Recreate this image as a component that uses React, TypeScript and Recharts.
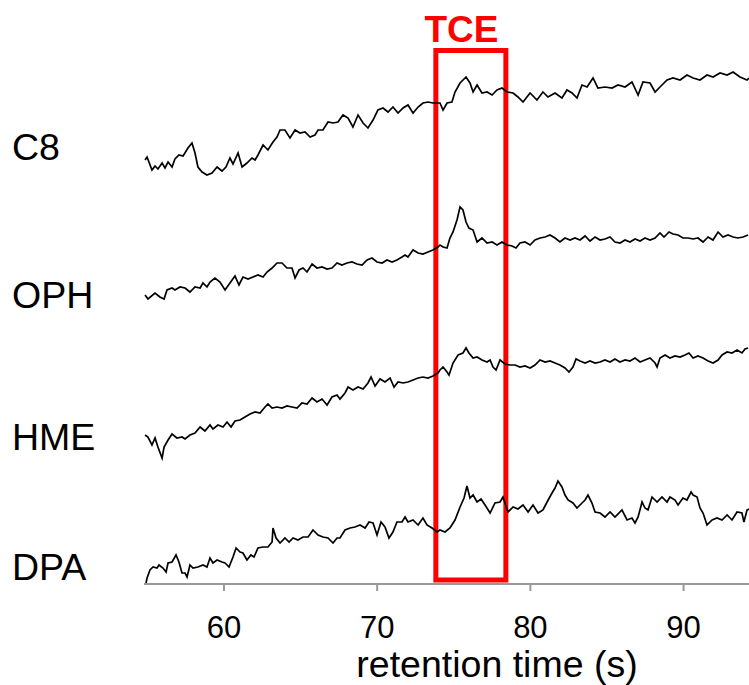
import { LineChart, Line, XAxis, YAxis, ReferenceArea } from 'recharts';

// retention time (s) and detector signal (a.u.)
const c8Time = [
  54.85, 54.98, 55.30, 55.50, 55.69, 55.96, 56.15, 56.35, 56.61, 56.80,
  57.06, 57.33, 57.65, 57.91, 58.11, 58.30, 58.57, 58.89, 59.22, 59.55,
  59.87, 60.13, 60.39, 60.59, 60.92, 61.18, 61.50, 61.83, 62.03, 62.22,
  62.55, 62.87, 63.20, 63.46, 63.66, 63.98, 64.31, 64.64, 64.96, 65.29,
  65.62, 65.94, 66.14, 66.46, 66.79, 67.12, 67.44, 67.77, 68.10, 68.42,
  68.75, 69.08, 69.40, 69.73, 70.05, 70.38, 70.71, 71.03, 71.36, 71.69,
  72.01, 72.34, 72.67, 72.99, 73.32, 73.64, 74.10, 74.30, 74.56, 74.88,
  75.08, 75.41, 75.80, 76.06, 76.26, 76.52, 76.84, 77.17, 77.50, 77.82,
  78.15, 78.47, 78.87, 79.19, 79.52, 79.98, 80.43, 80.82, 81.15, 81.61,
  82.06, 82.39, 82.72, 83.04, 83.37, 83.70, 84.09, 84.41, 84.87, 85.33,
  85.72, 86.18, 86.63, 87.03, 87.35, 87.81, 88.14, 88.46, 88.92, 89.31,
  89.77, 90.22, 90.62, 91.07, 91.53, 91.92, 92.38, 92.84, 93.23, 93.68,
  94.14, 94.27,
];
const c8Signal = [
  24, 27, 14, 18, 15, 21, 16, 22, 17, 25,
  29, 28, 36, 41, 31, 17, 12, 9, 11, 17,
  13, 17, 26, 20, 31, 17, 21, 26, 24, 29,
  39, 34, 42, 47, 54, 54, 46, 54, 51, 52,
  47, 49, 54, 54, 62, 61, 62, 69, 66, 57,
  69, 61, 56, 64, 74, 76, 72, 77, 71, 76,
  79, 71, 77, 81, 82, 81, 81, 74, 81, 82,
  92, 101, 107, 101, 92, 99, 91, 92, 89, 94,
  96, 92, 91, 87, 82, 91, 84, 92, 87, 91,
  86, 94, 91, 86, 99, 97, 106, 96, 97, 96,
  99, 97, 102, 89, 102, 101, 92, 97, 104, 106,
  104, 109, 106, 104, 109, 107, 111, 109, 112, 107,
  104, 106,
];

const ophTime = [
  54.85, 55.04, 55.50, 55.82, 56.09, 56.28, 56.61, 56.80, 57.13, 57.46,
  57.78, 58.11, 58.44, 58.63, 58.89, 59.09, 59.41, 59.74, 60.07, 60.39,
  60.72, 60.98, 61.24, 61.57, 61.89, 62.22, 62.55, 62.81, 63.14, 63.46,
  63.79, 64.11, 64.44, 64.64, 64.90, 65.16, 65.42, 65.75, 66.07, 66.40,
  66.73, 67.05, 67.38, 67.70, 68.03, 68.36, 68.68, 69.01, 69.34, 69.66,
  69.99, 70.32, 70.64, 70.97, 71.29, 71.62, 71.82, 72.01, 72.34, 72.67,
  72.99, 73.32, 73.64, 73.97, 74.10, 74.30, 74.56, 74.75, 74.95, 75.21,
  75.41, 75.60, 75.80, 75.99, 76.26, 76.52, 76.84, 77.17, 77.50, 77.82,
  78.15, 78.47, 78.80, 79.06, 79.32, 79.65, 79.98, 80.30, 80.63, 80.96,
  81.28, 81.61, 81.93, 82.26, 82.59, 82.91, 83.24, 83.57, 83.89, 84.22,
  84.55, 84.87, 85.20, 85.52, 85.85, 86.18, 86.50, 86.83, 87.16, 87.48,
  87.81, 88.14, 88.46, 88.72, 89.05, 89.31, 89.64, 89.96, 90.29, 90.62,
  90.94, 91.27, 91.60, 91.92, 92.25, 92.57, 92.90, 93.23, 93.55, 93.88,
  94.21,
];
const ophSignal = [
  9, 5, 11, 7, 5, 14, 16, 14, 17, 16,
  12, 17, 16, 21, 17, 22, 26, 22, 14, 21,
  28, 19, 27, 25, 27, 29, 27, 32, 36, 41,
  41, 36, 36, 26, 34, 36, 32, 40, 36, 37,
  35, 36, 41, 39, 41, 42, 40, 39, 44, 46,
  42, 41, 44, 42, 44, 47, 49, 47, 54, 51,
  50, 52, 54, 57, 59, 57, 56, 66, 72, 84,
  97, 94, 82, 76, 74, 62, 66, 61, 62, 59,
  62, 59, 58, 56, 61, 62, 59, 64, 66, 67,
  69, 66, 62, 66, 64, 66, 64, 68, 63, 67,
  64, 65, 67, 62, 61, 64, 62, 65, 63, 66,
  64, 66, 71, 67, 72, 70, 69, 66, 66, 65,
  66, 62, 67, 64, 72, 67, 69, 67, 66, 67,
  69,
];

const hmeTime = [
  54.85, 55.04, 55.30, 55.50, 55.69, 55.96, 56.09, 56.35, 56.61, 56.93,
  57.26, 57.46, 57.78, 58.11, 58.44, 58.76, 59.09, 59.28, 59.61, 59.94,
  60.20, 60.46, 60.72, 61.05, 61.37, 61.70, 62.03, 62.35, 62.68, 62.87,
  63.14, 63.46, 63.79, 64.11, 64.44, 64.77, 65.09, 65.42, 65.75, 66.07,
  66.40, 66.73, 67.05, 67.38, 67.57, 67.90, 68.10, 68.42, 68.75, 69.08,
  69.40, 69.60, 69.86, 70.19, 70.51, 70.84, 71.10, 71.36, 71.69, 72.01,
  72.34, 72.67, 72.99, 73.32, 73.64, 73.97, 74.10, 74.30, 74.56, 74.69,
  74.95, 75.28, 75.60, 75.80, 75.99, 76.26, 76.52, 76.84, 77.17, 77.37,
  77.56, 77.76, 78.02, 78.34, 78.67, 79.00, 79.32, 79.65, 79.98, 80.30,
  80.63, 80.96, 81.28, 81.61, 81.93, 82.26, 82.52, 82.78, 82.98, 83.24,
  83.57, 83.89, 84.22, 84.55, 84.87, 85.20, 85.52, 85.85, 86.18, 86.50,
  86.83, 87.16, 87.48, 87.81, 88.14, 88.27, 88.46, 88.79, 89.11, 89.44,
  89.77, 90.09, 90.35, 90.62, 90.94, 91.27, 91.60, 91.92, 92.25, 92.51,
  92.84, 93.16, 93.49, 93.81, 94.01, 94.21,
];
const hmeSignal = [
  29, 27, 19, 26, 17, 6, 17, 24, 30, 26,
  27, 25, 29, 31, 37, 33, 39, 35, 39, 37,
  42, 37, 43, 44, 47, 50, 52, 51, 57, 60,
  56, 57, 56, 58, 57, 56, 61, 60, 66, 62,
  65, 59, 67, 69, 65, 71, 77, 74, 77, 75,
  81, 87, 78, 85, 82, 86, 77, 82, 81, 82,
  84, 86, 87, 86, 88, 91, 94, 97, 92, 89,
  101, 109, 111, 116, 111, 106, 107, 104, 102, 104,
  97, 94, 104, 100, 99, 99, 97, 98, 96, 99,
  104, 102, 103, 101, 99, 96, 92, 97, 105, 103,
  101, 103, 101, 102, 104, 102, 105, 102, 104, 103,
  106, 102, 104, 106, 101, 97, 106, 109, 106, 108,
  107, 109, 111, 106, 108, 106, 103, 101, 104, 109,
  112, 111, 114, 111, 115, 116,
];

const dpaTime = [
  54.85, 54.98, 55.17, 55.37, 55.63, 55.76, 56.02, 56.22, 56.35, 56.61,
  56.87, 57.06, 57.26, 57.46, 57.59, 57.78, 57.98, 58.30, 58.63, 58.89,
  59.09, 59.28, 59.55, 59.87, 60.07, 60.33, 60.59, 60.79, 61.05, 61.24,
  61.50, 61.76, 61.96, 62.22, 62.55, 62.87, 63.14, 63.20, 63.40, 63.66,
  63.98, 64.25, 64.51, 64.83, 65.16, 65.49, 65.81, 66.14, 66.46, 66.79,
  67.12, 67.38, 67.57, 67.90, 68.23, 68.55, 68.88, 69.21, 69.47, 69.73,
  69.99, 70.25, 70.51, 70.77, 71.03, 71.29, 71.62, 71.82, 72.01, 72.34,
  72.67, 72.99, 73.25, 73.58, 73.91, 74.10, 74.43, 74.75, 75.08, 75.41,
  75.67, 75.86, 76.06, 76.26, 76.52, 76.78, 77.04, 77.37, 77.69, 78.02,
  78.21, 78.54, 78.87, 79.19, 79.52, 79.85, 80.17, 80.50, 80.82, 81.09,
  81.41, 81.61, 81.80, 82.06, 82.26, 82.46, 82.78, 83.04, 83.37, 83.57,
  83.76, 84.02, 84.22, 84.55, 84.87, 85.20, 85.52, 85.98, 86.31, 86.63,
  86.83, 87.03, 87.29, 87.48, 87.68, 87.94, 88.27, 88.59, 88.92, 89.11,
  89.44, 89.64, 89.96, 90.22, 90.49, 90.62, 90.88, 91.07, 91.27, 91.53,
  91.86, 92.18, 92.51, 92.84, 93.16, 93.49, 93.81, 93.94, 94.14, 94.27,
];
const dpaSignal = [
  -4, 6, 14, 17, 16, 19, 16, 12, 21, 22,
  29, 22, 11, 11, 7, 19, 16, 17, 19, 17,
  26, 21, 24, 22, 21, 17, 27, 36, 32, 31,
  24, 29, 27, 36, 37, 37, 42, 56, 46, 41,
  46, 42, 46, 44, 47, 47, 54, 49, 47, 46,
  41, 46, 46, 54, 56, 57, 59, 56, 62, 61,
  49, 62, 57, 46, 52, 62, 62, 67, 62, 64,
  59, 66, 59, 56, 52, 54, 52, 56, 64, 77,
  86, 98, 86, 89, 82, 85, 79, 71, 81, 82,
  87, 72, 77, 75, 79, 72, 79, 71, 74, 82,
  91, 96, 103, 97, 89, 84, 81, 76, 81, 84,
  89, 81, 72, 71, 67, 72, 67, 74, 64, 66,
  61, 67, 82, 76, 74, 87, 82, 87, 82, 87,
  84, 79, 86, 84, 92, 89, 87, 76, 71, 59,
  64, 66, 64, 69, 64, 72, 71, 62, 74, 75,
];

const xTicks = [60, 70, 80, 90];
const tceWindow = [73.83, 78.4];

// vertical stacking of the traces
const traces = [
  { name: 'C8', time: c8Time, signal: c8Signal, offset: 400, labelY: 160 },
  { name: 'OPH', time: ophTime, signal: ophSignal, offset: 280, labelY: 308 },
  { name: 'HME', time: hmeTime, signal: hmeSignal, offset: 120, labelY: 450 },
  { name: 'DPA', time: dpaTime, signal: dpaSignal, offset: 0, labelY: 580 },
];

const W = 749;
const H = 685;
const FONT = '"Liberation Sans", Arial, Helvetica, sans-serif';

export default function App() {
  const series = traces.map(tr => ({
    name: tr.name,
    data: tr.time.map((t, i) => ({ t, v: tr.signal[i] + tr.offset })),
  }));

  return (
    <div style={{ position: 'absolute', left: 0, top: 0, width: W, height: H, background: '#fff', fontFamily: FONT }}>
      <LineChart width={W} height={H} margin={{ top: 0, right: 0, bottom: 0, left: 144 }}>
        <XAxis
          type="number"
          dataKey="t"
          domain={[54.78, 94.27]}
          allowDataOverflow
          ticks={xTicks}
          height={101}
          stroke="#999"
          strokeWidth={2}
          tickSize={7}
          tickMargin={25}
          tick={{ fill: '#000', fontSize: 31 }}
        />
        <YAxis type="number" domain={[0, 584]} allowDataOverflow hide />
        {series.map(s => (
          <Line
            key={s.name}
            data={s.data}
            dataKey="v"
            type="linear"
            stroke="#000"
            strokeWidth={1.7}
            dot={false}
            isAnimationActive={false}
          />
        ))}
        <ReferenceArea
          x1={tceWindow[0]}
          x2={tceWindow[1]}
          y1={4}
          y2={533.5}
          stroke="#ff0000"
          strokeWidth={5}
          fill="none"
          fillOpacity={0}
          ifOverflow="visible"
        />
      </LineChart>
      <svg width={W} height={H} style={{ position: 'absolute', left: 0, top: 0, pointerEvents: 'none' }}>
        {traces.map(tr => (
          <text key={tr.name} x={12} y={tr.labelY} fontSize={37.5} fill="#000" fontFamily={FONT}>
            {tr.name}
          </text>
        ))}
        <text x={461.5} y={42} fontSize={37} fontWeight="bold" fill="#ff0000" textAnchor="middle" fontFamily={FONT}>
          TCE
        </text>
        <text x={497} y={677} fontSize={37.5} fill="#000" textAnchor="middle" fontFamily={FONT}>
          retention time (s)
        </text>
      </svg>
    </div>
  );
}
